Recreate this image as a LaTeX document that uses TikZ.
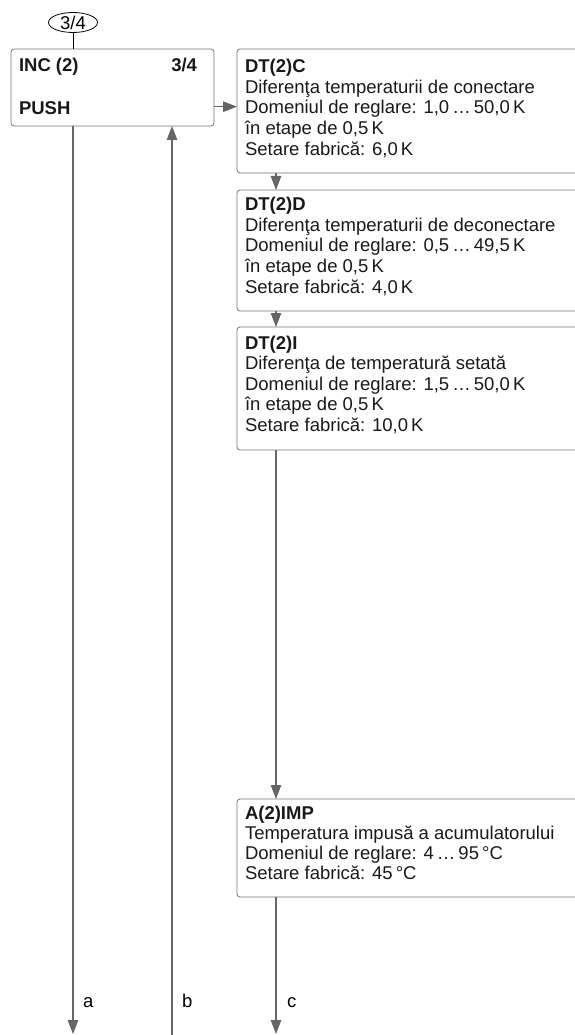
\documentclass[tikz,border=0pt]{standalone}
\usepackage{fontspec}
\setmainfont{Liberation Sans}
\usetikzlibrary{arrows.meta,shapes.geometric}
\begin{document}
\begin{tikzpicture}[x=1pt,y=-1pt,
  box/.style={draw=black!55, line width=0.8pt, rounded corners=3pt, inner sep=0pt, outer sep=0pt, anchor=north west},
  txt/.style={inner sep=0pt, outer sep=0pt, anchor=base west, font=\fontsize{18.5}{20.7}\selectfont, text=black!90},
  arr/.style={draw=black!60, line width=1.2pt, -{Triangle[length=14pt,width=10.5pt]}},
  lbl/.style={inner sep=0pt, anchor=base west, font=\fontsize{18.5}{20.7}\selectfont}]
\useasboundingbox (0,0) rectangle (575,1035);
\clip (0,0) rectangle (575,1035);
% coordinates for columns
\coordinate (xa) at (73,0);
\coordinate (xb) at (172,0);
\coordinate (xc) at (276,0);
\coordinate (ya) at (0,106.7);
% oval
\node[draw=black, line width=0.8pt, ellipse, minimum width=49pt, minimum height=20pt, inner sep=0pt, font=\fontsize{18.5}{20}\selectfont] (ov) at (73,22.5) {3/4};
% INC box
\node[box, minimum width=203pt, minimum height=77pt] (inc) at (11,49) {};
\node[txt, font=\fontsize{18.5}{20.7}\selectfont\bfseries] (incT) at (19,71.7) {INC (2)};
\node[txt, anchor=base east, font=\fontsize{18.5}{20.7}\selectfont\bfseries] (incN) at (197,71.7) {3/4};
\node[txt, font=\fontsize{18.5}{20.7}\selectfont\bfseries] (incP) at (19,115) {PUSH};
% DT(2)C
\node[box, minimum width=360pt, minimum height=124pt] (bC) at (237,49) {};
\node[txt] (tC) at (245,72.7) {\vtop{\baselineskip=20.6pt
  \hbox{\bfseries DT(2)C}
  \hbox{Diferenţa temperaturii de conectare}
  \hbox{Domeniul de reglare: 1,0\,\dots\,50,0\,K}
  \hbox{în etape de 0,5\,K}
  \hbox{Setare fabrică: 6,0\,K}}};
% DT(2)D
\node[box, minimum width=360pt, minimum height=121pt] (bD) at (237,190) {};
\node[txt] (tD) at (245,210.7) {\vtop{\baselineskip=20.6pt
  \hbox{\bfseries DT(2)D}
  \hbox{Diferenţa temperaturii de deconectare}
  \hbox{Domeniul de reglare: 0,5\,\dots\,49,5\,K}
  \hbox{în etape de 0,5\,K}
  \hbox{Setare fabrică: 4,0\,K}}};
% DT(2)I
\node[box, minimum width=360pt, minimum height=123pt] (bI) at (237,327) {};
\node[txt] (tI) at (245,349) {\vtop{\baselineskip=20.6pt
  \hbox{\bfseries DT(2)I}
  \hbox{Diferenţa de temperatură setată}
  \hbox{Domeniul de reglare: 1,5\,\dots\,50,0\,K}
  \hbox{în etape de 0,5\,K}
  \hbox{Setare fabrică: 10,0\,K}}};
% A(2)IMP
\node[box, minimum width=360pt, minimum height=98pt] (bA) at (237,799) {};
\node[txt] (tA) at (245,819) {\vtop{\baselineskip=20.2pt
  \hbox{\bfseries A(2)IMP}
  \hbox{Temperatura impusă a acumulatorului}
  \hbox{Domeniul de reglare: 4\,\dots\,95\,°C}
  \hbox{Setare fabrică: 45\,°C}}};
% end coordinates
\coordinate (endA) at (73,1034);
\coordinate (endB) at (172,1036);
\coordinate (endC) at (276,1034);
% connectors
\draw[black, line width=0.8pt] (ov.south) -- (inc.north -| ov.south);
\draw[arr] (inc.east |- ya) -- (bC.west |- ya);
\draw[arr] (bC.south -| xc) -- (bD.north -| xc);
\draw[arr] (bD.south -| xc) -- (bI.north -| xc);
\draw[arr] (bI.south -| xc) -- (bA.north -| xc);
\draw[arr] (inc.south -| xa) -- (endA);
\draw[arr] (endB) -- (inc.south -| xb);
\draw[arr] (bA.south -| xc) -- (endC);
% labels
\node[lbl] (la) at (83,1007) {a};
\node[lbl] (lb) at (182,1007) {b};
\node[lbl] (lc) at (287,1007) {c};
\end{tikzpicture}
\end{document}
